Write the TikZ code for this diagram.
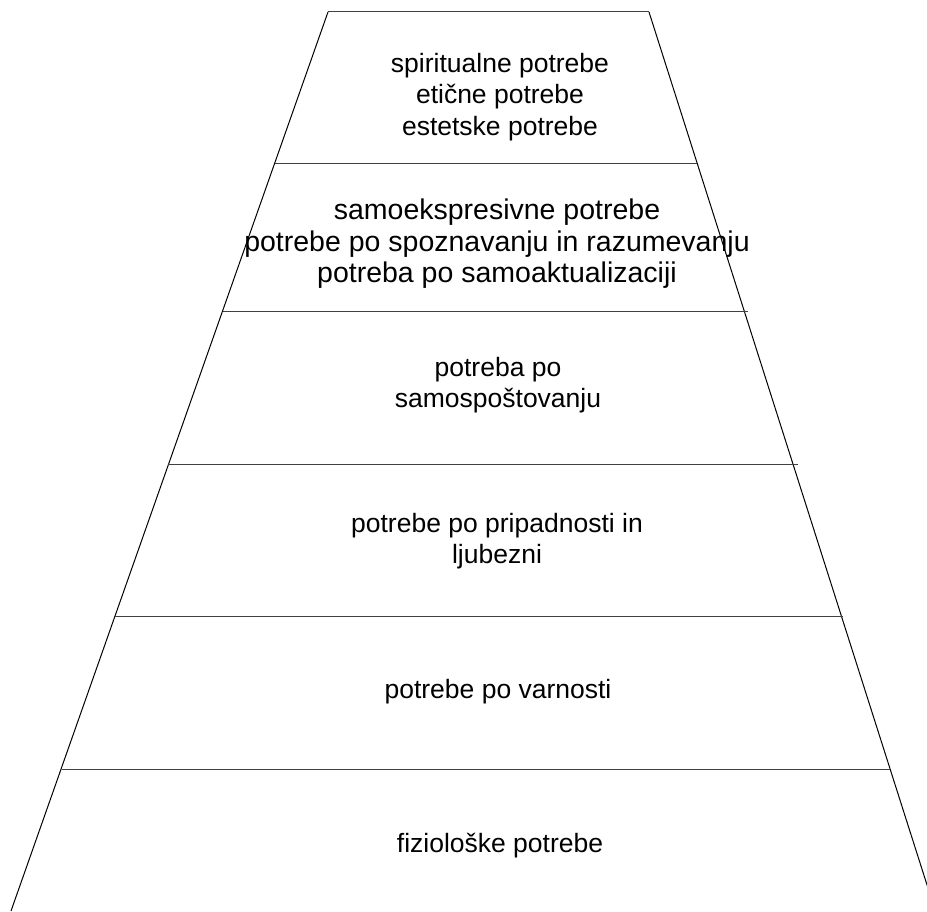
\documentclass[tikz,border=0pt]{standalone}
\usepackage{fontspec}
\setmainfont{Liberation Sans}
\begin{document}
\begin{tikzpicture}[x=1pt,y=-1pt,
  edge/.style={line width=1pt,black},
  tier/.style={line width=1pt,black!75},
  label/.style={align=center,font=\fontsize{26.5}{31.5}\selectfont,inner sep=0pt}]
\useasboundingbox (0,0) rectangle (927,912);
% outline of the pyramid
\coordinate (tl) at (328,12);
\coordinate (tr) at (649,12);
\coordinate (bl) at (11,911);
\coordinate (br) at (928,888);
\draw[tier] (tl) -- (tr);
\draw[edge] (tl) -- (bl);
\draw[edge] (tr) -- (br);
% tier separators
\coordinate (l1) at (275,164);  \coordinate (r1) at (697,164);
\coordinate (l2) at (223,312);  \coordinate (r2) at (748,312);
\coordinate (l3) at (168,464);  \coordinate (r3) at (798,464);
\coordinate (l4) at (115,616);  \coordinate (r4) at (843,616);
\coordinate (l5) at (62,769);   \coordinate (r5) at (890,769);
\foreach \i in {1,...,5} \draw[tier] (l\i) -- (r\i);
% tier labels
\node[label] (t1) at (500,97) {spiritualne potrebe\\eti\v{c}ne potrebe\\estetske potrebe};
\node[label,font=\fontsize{28.5}{31.5}\selectfont] (t2) at (497,244) {samoekspresivne potrebe\\potrebe po spoznavanju in razumevanju\\potreba po samoaktualizaciji};
\node[label] (t3) at (498,385) {potreba po\\samospo\v{s}tovanju};
\node[label] (t4) at (497,541) {potrebe po pripadnosti in\\ljubezni};
\node[label] (t5) at (498,692) {potrebe po varnosti};
\node[label] (t6) at (500,846) {fiziolo\v{s}ke potrebe};
\end{tikzpicture}
\end{document}
